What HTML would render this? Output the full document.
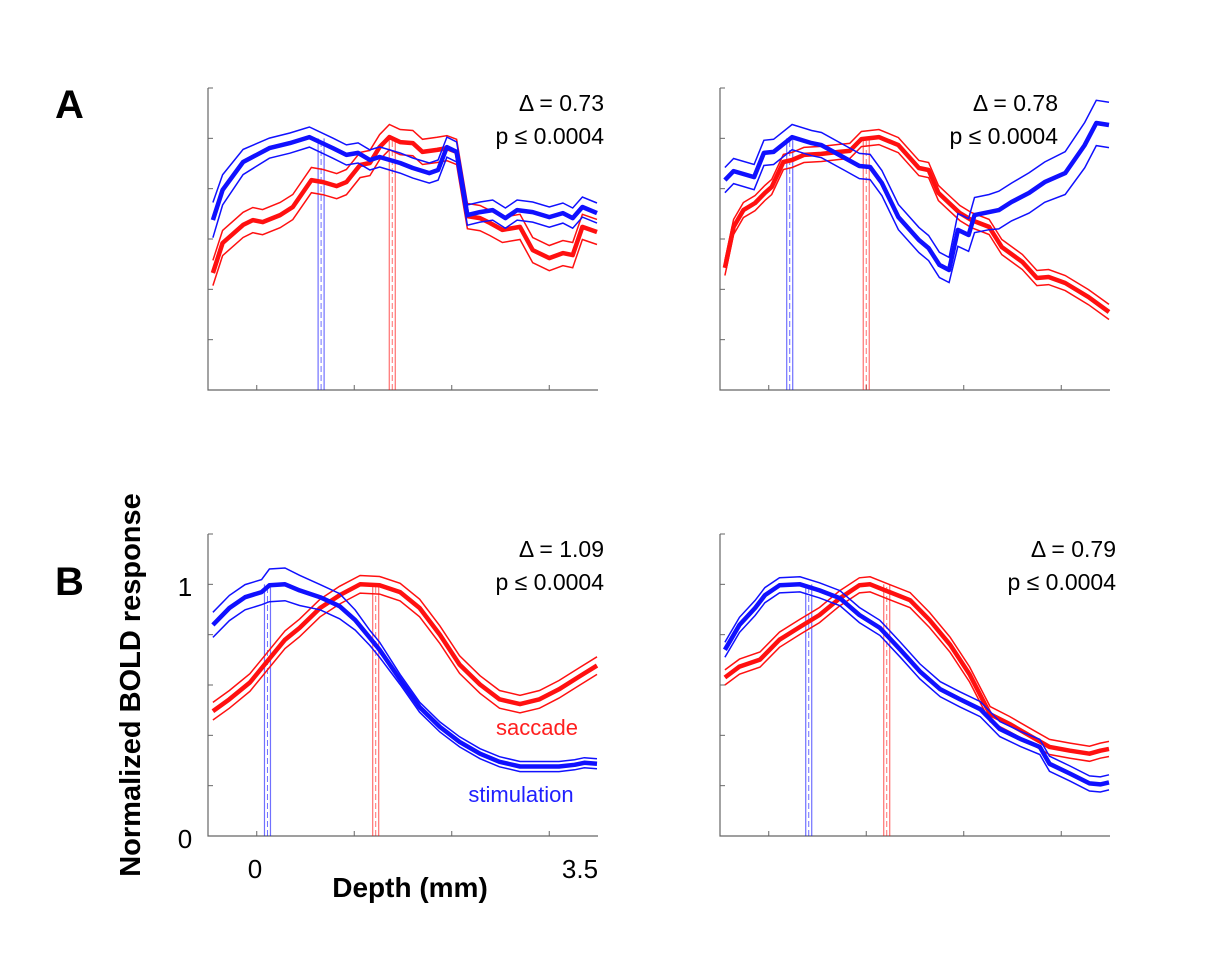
<!DOCTYPE html>
<html><head><meta charset="utf-8">
<style>
body{margin:0;background:#fff;}
svg{display:block;font-family:"Liberation Sans","DejaVu Sans",sans-serif;}
</style></head>
<body>
<svg id="fig" width="1225" height="966" viewBox="0 0 1225 966">
<text x="55" y="118" font-size="40" font-weight="bold">A</text>
<text x="55" y="595" font-size="40" font-weight="bold">B</text>
<text transform="translate(140,685) rotate(-90)" text-anchor="middle" font-size="29" font-weight="bold">Normalized BOLD response</text>
<text x="185" y="596" text-anchor="middle" font-size="26">1</text>
<text x="185" y="848" text-anchor="middle" font-size="26">0</text>
<text x="255" y="878" text-anchor="middle" font-size="26">0</text>
<text x="580" y="878" text-anchor="middle" font-size="26">3.5</text>
<text x="410" y="897" text-anchor="middle" font-size="28" font-weight="bold">Depth (mm)</text>
<text x="537" y="735" text-anchor="middle" font-size="22" fill="#ff2020">saccade</text>
<text x="521" y="802" text-anchor="middle" font-size="22" fill="#2020ff">stimulation</text>
</svg>
<script>
// Panel A-left
const aL_blueDepth=[-0.45,-0.35,-0.14,0.13,0.34,0.54,0.78,0.92,1.04,1.16,1.26,1.47,1.6,1.77,1.86,1.95,2.05,2.16,2.29,2.42,2.55,2.67,2.83,3.0,3.14,3.24,3.34,3.49];
const aL_blueMean=[0.675,0.795,0.906,0.961,0.981,1.005,0.961,0.934,0.942,0.914,0.926,0.902,0.882,0.862,0.874,0.965,0.946,0.695,0.707,0.715,0.683,0.715,0.707,0.687,0.703,0.683,0.727,0.703];
const aL_blueErr=[0.07,0.06,0.05,0.04,0.04,0.04,0.04,0.04,0.04,0.04,0.04,0.04,0.04,0.04,0.04,0.04,0.04,0.04,0.04,0.04,0.04,0.04,0.04,0.04,0.04,0.04,0.04,0.04];
const aL_redDepth=[-0.45,-0.35,-0.14,-0.04,0.06,0.24,0.37,0.56,0.68,0.82,0.92,1.06,1.16,1.26,1.36,1.47,1.6,1.7,1.85,1.95,2.05,2.16,2.29,2.39,2.52,2.7,2.83,3.0,3.14,3.24,3.34,3.49];
const aL_redMean=[0.465,0.584,0.656,0.675,0.667,0.695,0.727,0.834,0.826,0.81,0.826,0.894,0.902,0.965,1.005,0.985,0.981,0.946,0.954,0.961,0.946,0.691,0.683,0.664,0.636,0.648,0.556,0.524,0.544,0.536,0.648,0.628];
const aL_redErr=[0.05];
const aL_peaks=[0.66,1.39];
// Panel A-right
const aR_blueDepth=[-0.45,-0.36,-0.15,-0.05,0.05,0.24,0.44,0.54,0.78,0.93,1.04,1.16,1.33,1.54,1.64,1.75,1.85,1.94,2.05,2.11,2.26,2.36,2.49,2.67,2.83,3.04,3.24,3.36,3.49];
const aR_blueMean=[0.834,0.87,0.846,0.942,0.946,1.005,0.981,0.973,0.922,0.89,0.886,0.822,0.687,0.596,0.564,0.497,0.477,0.636,0.616,0.695,0.707,0.715,0.747,0.783,0.826,0.862,0.973,1.061,1.053];
const aR_blueErr=[0.05,0.05,0.05,0.05,0.05,0.05,0.05,0.05,0.05,0.05,0.05,0.05,0.05,0.05,0.05,0.05,0.05,0.065,0.065,0.07,0.07,0.075,0.075,0.08,0.08,0.085,0.09,0.09,0.09];
const aR_redDepth=[-0.45,-0.36,-0.26,-0.14,-0.04,0.03,0.15,0.24,0.36,0.54,0.72,0.83,0.95,1.13,1.33,1.54,1.64,1.74,1.85,1.96,2.08,2.26,2.39,2.6,2.75,2.87,3.04,3.28,3.49];
const aR_redMean=[0.485,0.648,0.715,0.743,0.783,0.807,0.906,0.914,0.934,0.938,0.946,0.95,0.997,1.005,0.973,0.882,0.874,0.783,0.743,0.703,0.675,0.648,0.568,0.509,0.445,0.449,0.425,0.369,0.31];
const aR_redErr=[0.03];
const aR_peaks=[0.215,1.0];
// Panel B-left
const bL_blueDepth=[-0.45,-0.28,-0.12,0.05,0.13,0.29,0.44,0.65,0.85,1.01,1.16,1.26,1.47,1.67,1.88,2.08,2.29,2.49,2.7,2.9,3.1,3.26,3.36,3.49];
const bL_blueMean=[0.839,0.906,0.949,0.969,0.996,1.0,0.976,0.949,0.913,0.858,0.787,0.74,0.622,0.512,0.433,0.374,0.327,0.295,0.276,0.276,0.276,0.283,0.291,0.287];
const bL_blueErr=[0.05,0.05,0.05,0.05,0.065,0.065,0.06,0.05,0.05,0.04,0.03,0.03,0.02,0.02,0.02,0.02,0.02,0.02,0.02,0.02,0.02,0.02,0.02,0.02];
const bL_redDepth=[-0.45,-0.28,-0.07,0.08,0.29,0.44,0.65,0.85,1.06,1.26,1.47,1.67,1.88,2.08,2.29,2.49,2.7,2.9,3.1,3.31,3.49];
const bL_redMean=[0.496,0.543,0.61,0.681,0.78,0.827,0.906,0.957,1.0,0.996,0.969,0.906,0.799,0.681,0.602,0.543,0.524,0.543,0.583,0.634,0.677];
const bL_redErr=[0.035];
const bL_peaks=[0.11,1.22];
// Panel B-right
const bR_blueDepth=[-0.45,-0.3,-0.14,-0.04,0.11,0.32,0.52,0.73,0.93,1.14,1.35,1.55,1.76,1.96,2.17,2.37,2.58,2.78,2.88,3.09,3.29,3.4,3.49];
const bR_blueMean=[0.74,0.839,0.906,0.957,0.996,1.0,0.976,0.945,0.878,0.827,0.74,0.654,0.583,0.543,0.504,0.425,0.386,0.354,0.287,0.248,0.209,0.205,0.213];
const bR_blueErr=[0.03];
const bR_redDepth=[-0.45,-0.3,-0.09,0.11,0.32,0.52,0.73,0.93,1.04,1.24,1.45,1.65,1.86,2.06,2.27,2.47,2.68,2.88,3.09,3.29,3.4,3.49];
const bR_redMean=[0.63,0.673,0.701,0.78,0.831,0.878,0.945,0.996,1.0,0.969,0.937,0.858,0.76,0.642,0.484,0.445,0.398,0.354,0.339,0.327,0.339,0.346];
const bR_redErr=[0.03];
const bR_peaks=[0.41,1.21];
const stats=[["Δ = 0.73","p ≤ 0.0004"],["Δ = 0.78","p ≤ 0.0004"],["Δ = 1.09","p ≤ 0.0004"],["Δ = 0.79","p ≤ 0.0004"]];
const yTicks=[0,0.2,0.4,0.6,0.8,1.0,1.2];
const xTicksA=[0,1,2,3];
const xTicksB=[0,1,2,3];

const NS="http://www.w3.org/2000/svg";
const svg=document.getElementById('fig');
const BLUE="#1010ff",RED="#ff1010";
function mk(tag,attrs,parent){const e=document.createElementNS(NS,tag);for(const k in attrs)e.setAttribute(k,attrs[k]);(parent||svg).appendChild(e);return e;}

function panel(name,left,top,depth1,mean1,err1,depth2,mean2,err2,peaks,st,xt,statX){
  const W=390,H=302;
  const g=mk('g',{});
  
  
  const xs=d=>left+(d+0.5)/4*W;
  const ys=v=>top+H-v/1.2*H;
  const ax=mk('path',{d:`M${left},${top} V${top+H} H${left+W}`,fill:'none',stroke:'#666','stroke-width':1.2},g);
  
  
  yTicks.forEach(v=>{const t=mk('line',{x1:left,x2:left+5,y1:ys(v),y2:ys(v),stroke:'#666','stroke-width':1},g);
    
    });
  xt.forEach(v=>{const t=mk('line',{x1:xs(v),x2:xs(v),y1:top+H,y2:top+H-5,stroke:'#666','stroke-width':1},g);
    
    });
  const pcol=[BLUE,RED];
  peaks.forEach((p,i)=>{const x=xs(p),w=3;
    [-w,w].forEach(o=>{const l=mk('line',{x1:x+o,x2:x+o,y1:top+H,y2:ys(1.0),stroke:pcol[i],'stroke-opacity':0.6,'stroke-width':1.2},g);
      
      });
    const c=mk('line',{x1:x,x2:x,y1:top+H,y2:ys(1.0),stroke:pcol[i],'stroke-opacity':0.6,'stroke-width':1,'stroke-dasharray':'6,3'},g);
    
    });
  function series(depth,mean,err,col,label){
    const e=i=>err.length===1?err[0]:err[i];
    const path=f=>depth.map((d,i)=>(i?'L':'M')+xs(d).toFixed(1)+','+ys(f(i)).toFixed(1)).join(' ');
    const up=mk('path',{d:path(i=>mean[i]+e(i)),fill:'none',stroke:col,'stroke-width':1.5},g);
    
    
    const lo=mk('path',{d:path(i=>mean[i]-e(i)),fill:'none',stroke:col,'stroke-width':1.5},g);
    
    
    const m=mk('path',{d:path(i=>mean[i]),fill:'none',stroke:col,'stroke-width':4.5,'stroke-linejoin':'round'},g);
    
    
  }
  series(depth2,mean2,err2,RED,'saccade');
  series(depth1,mean1,err1,BLUE,'stimulation');
  const t1=mk('text',{x:statX,y:top+23,'text-anchor':'end','font-size':23},g);
  t1.textContent=st[0];
  
  
  const t2=mk('text',{x:statX,y:top+56,'text-anchor':'end','font-size':23},g);
  t2.textContent=st[1];
  
  
}
panel('panel-a-left',208,88,aL_blueDepth,aL_blueMean,aL_blueErr,aL_redDepth,aL_redMean,aL_redErr,aL_peaks,stats[0],xTicksA,604);
panel('panel-a-right',720,88,aR_blueDepth,aR_blueMean,aR_blueErr,aR_redDepth,aR_redMean,aR_redErr,aR_peaks,stats[1],xTicksA,1058);
panel('panel-b-left',208,534,bL_blueDepth,bL_blueMean,bL_blueErr,bL_redDepth,bL_redMean,bL_redErr,bL_peaks,stats[2],xTicksB,604);
panel('panel-b-right',720,534,bR_blueDepth,bR_blueMean,bR_blueErr,bR_redDepth,bR_redMean,bR_redErr,bR_peaks,stats[3],xTicksB,1116);
</script>
</body></html>
